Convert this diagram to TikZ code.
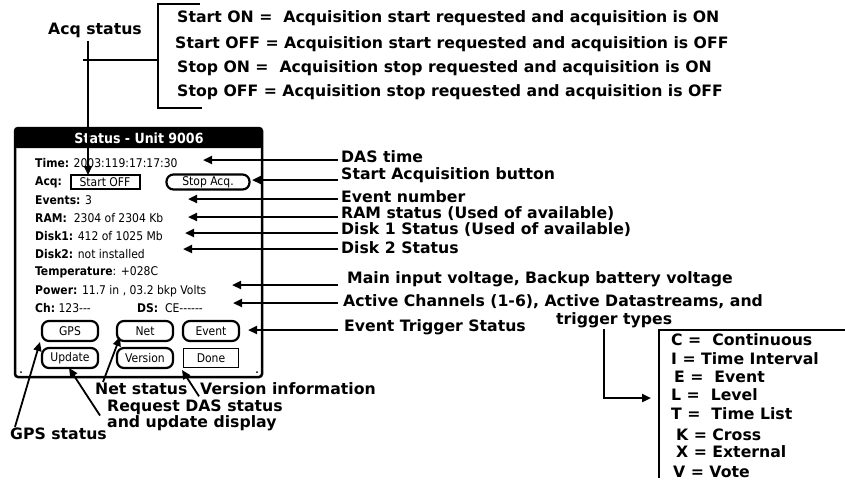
\documentclass[tikz,border=0pt]{standalone}
\usepackage{fontspec}
\usepackage{tikz}
\usetikzlibrary{arrows.meta}
\newfontfamily\notefont{DejaVu Sans}
\newfontfamily\palmfont{DejaVu Sans Condensed}
\newcommand{\lbl}{\notefont\bfseries\fontsize{15.7}{15}\selectfont}
\newcommand{\plm}{\palmfont\fontsize{12}{13}\selectfont}

\begin{document}
\begin{tikzpicture}[x=1pt,y=-1pt,
    note/.style={anchor=west,inner sep=1pt,font=\lbl},
    scr/.style={anchor=west,inner sep=0pt,font=\plm},
    btn/.style={draw,line width=2.2pt,rounded corners=7pt,minimum width=56pt,
      minimum height=20pt,inner sep=0pt,font=\plm},
    ptr/.style={line width=2.2pt,-{Triangle[length=9pt,width=8pt]}}]
    \useasboundingbox (0,0) rectangle (845,488);

    % the unit's screen
    \draw[line width=2.5pt,rounded corners=3pt] (15,128) rectangle (262,377);
    \fill[rounded corners=2pt] (15,128) rectangle (262,148);
    \node (title) at (139,138.5) [text=white,inner sep=0pt,
      font=\palmfont\bfseries\fontsize{14}{14}\selectfont] {Status - Unit 9006};
    \fill (21,372) circle (1pt) (257,372) circle (1pt);

    \node (time) at (35,163) [scr] {\textbf{Time:} 2003:119:17:17:30};
    \node (acq) at (35,182) [scr] {\textbf{Acq:}};
    \node (start) at (105,182) [draw,line width=2pt,minimum width=69pt,minimum height=14pt,
      inner sep=0pt,font=\plm] {Start OFF};
    \node (stop) at (208,182) [btn,minimum width=83pt,minimum height=15pt] {Stop Acq.};
    \node (events) at (35,200) [scr] {\textbf{Events:} 3};
    \node (ram) at (35,218) [scr] {\textbf{RAM:}\ \ 2304 of 2304 Kb};
    \node (disk1) at (35,236) [scr] {\textbf{Disk1:} 412 of 1025 Mb};
    \node (disk2) at (35,254) [scr] {\textbf{Disk2:} not installed};
    \node (temp) at (35,272) [scr] {\textbf{Temperature}: +028C};
    \node (power) at (35,291) [scr] {\textbf{Power:} 11.7 in , 03.2 bkp Volts};
    \node (ch) at (35,308) [scr] {\textbf{Ch:}\ 123-{}-{}-};
    \node (ds) at (137,308) [scr] {\textbf{DS:}\ \ CE-{}-{}-{}-{}-{}-};

    \node (gps) at (70,331) [btn] {GPS};
    \node (net) at (145,331) [btn] {Net};
    \node (event) at (211,331) [btn] {Event};
    \node (update) at (70,358) [btn] {Update};
    \node (version) at (145,358) [btn] {Version};
    \node (done) at (211,358) [draw,line width=1.3pt,minimum width=55pt,minimum height=19pt,
      inner sep=0pt,font=\plm] {Done};

    % acquisition states
    \node (acqlbl) at (95,30) [font=\lbl] {Acq status};
    \node (s1) at (176,18) [note] {Start ON = \ Acquisition start requested and acquisition is ON};
    \node (s2) at (174,44) [note] {Start OFF = Acquisition start requested and acquisition is OFF};
    \node (s3) at (176,68) [note] {Stop ON = \ Acquisition stop requested and acquisition is ON};
    \node (s4) at (176,92) [note] {Stop OFF = Acquisition stop requested and acquisition is OFF};
    \draw[line width=2.5pt] (200,4) -- (158,4) -- (158,108) -- (202,108);
    \draw[line width=2.5pt] (83,60) -- (158,60);
    \coordinate (pAcq) at (88,175);
    \draw[ptr] (acqlbl.south -| pAcq) -- (pAcq);

    % labels on the right
    \node (lTime) at (340,157) [note] {DAS time};
    \node (lStart) at (340,175) [note] {Start Acquisition button};
    \node (lEvents) at (340,197) [note] {Event number};
    \node (lRam) at (340,214) [note] {RAM status (Used of available)};
    \node (lDisk1) at (340,230) [note] {Disk 1 Status (Used of available)};
    \node (lDisk2) at (340,248) [note] {Disk 2 Status};
    \node (lPower) at (346,279) [note] {Main input voltage, Backup battery voltage};
    \node (lCh) at (342,302) [note] {Active Channels (1-6), Active Datastreams, and};
    \node (lTrig) at (555,320) [note] {trigger types};
    \node (lEvent) at (343,327) [note] {Event Trigger Status};

    \coordinate (pTime) at (203,160);
    \coordinate (pStop) at (252,180);
    \coordinate (pEvents) at (188,199);
    \coordinate (pRam) at (188,217);
    \coordinate (pDisk1) at (185,233);
    \coordinate (pDisk2) at (183,249);
    \coordinate (pPower) at (232,285);
    \coordinate (pCh) at (233,303);
    \coordinate (pEvent) at (248,330);

    \path[ptr]
    ([xshift=-2pt]lTime.west |- pTime) edge (pTime)
    ([xshift=-2pt]lStart.west |- pStop) edge (pStop)
    ([xshift=-2pt]lEvents.west |- pEvents) edge (pEvents)
    ([xshift=-2pt]lRam.west |- pRam) edge (pRam)
    ([xshift=-2pt]lDisk1.west |- pDisk1) edge (pDisk1)
    ([xshift=-2pt]lDisk2.west |- pDisk2) edge (pDisk2)
    ([xshift=-8pt]lPower.west |- pPower) edge (pPower)
    ([xshift=-4pt]lCh.west |- pCh) edge (pCh)
    ([xshift=-5pt]lEvent.west |- pEvent) edge (pEvent)
    ;

    % labels below
    \node (lNet) at (94,389) [note] {Net status};
    \node (lVer) at (199,389) [note] {Version information};
    \node (lReq) at (106,415.5) [note,align=left] {Request DAS status\\and update display};
    \node (lGps) at (9,434) [note] {GPS status};

    \coordinate (pNet) at (120,337);
    \coordinate (pVer) at (182,370);
    \coordinate (pUpd) at (69,368);
    \coordinate (pGps) at (40,342);

    \path[ptr,line width=1.8pt]
    ([xshift=9pt]lNet.north west) edge (pNet)
    (lVer.south west) edge (pVer)
    ([xshift=-6pt]lReq.west) edge (pUpd)
    ([xshift=6pt]lGps.north west) edge (pGps)
    ;

    % trigger types
    \draw[line width=2.5pt] (845,330) -- (659,330) -- (659,478);
    \coordinate (pTypes) at (651,398);
    \draw[ptr] ([xshift=49pt]lTrig.south west) |- (pTypes);
    \node (tC) at (670,340) [note] {C = \ Continuous};
    \node (tI) at (670,359) [note] {I = Time Interval};
    \node (tE) at (673,377) [note] {E = \ Event};
    \node (tL) at (670,395) [note] {L = \ Level};
    \node (tT) at (670,414) [note] {T = \ Time List};
    \node (tK) at (675,435) [note] {K = Cross};
    \node (tX) at (675,452) [note] {X = External};
    \node (tV) at (672,472) [note] {V = Vote};
\end{tikzpicture}
\end{document}
